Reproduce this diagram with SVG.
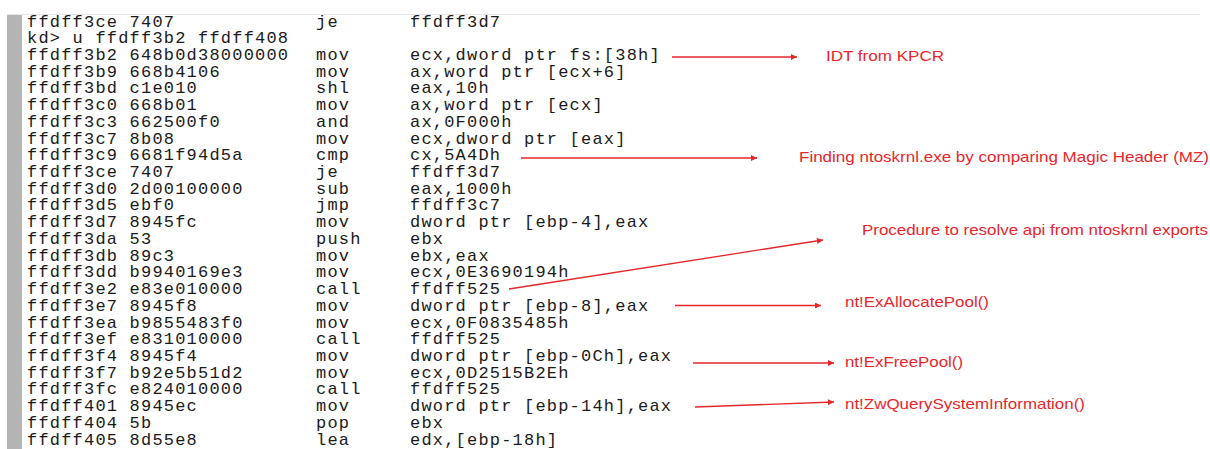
<svg xmlns="http://www.w3.org/2000/svg" width="1210" height="449" viewBox="0 0 1210 449">
<style>
.code{font-family:"Liberation Mono","Courier New",monospace;font-size:17px;letter-spacing:1.2px;fill:#1a1a1a}
.note{font-family:"Liberation Sans",Arial,sans-serif;font-size:15px;fill:#e8262b}
.arr{stroke:#e3262a;stroke-width:1.3;fill:none;marker-end:url(#ah)}
</style>
<defs>
<marker id="ah" viewBox="0 0 10 10" refX="10" refY="5" markerWidth="9" markerHeight="6" markerUnits="userSpaceOnUse" orient="auto">
<path d="M0,0 L10,5 L0,10 z" fill="#e3262a"/>
</marker>
</defs>
<rect x="0" y="0" width="1210" height="449" fill="#ffffff"/>
<g id="listing">
<line x1="7" y1="14.5" x2="1200" y2="14.5" stroke="#e6e6e6" stroke-width="1"/>
<rect x="7" y="15" width="15" height="434" fill="#b4b4b4"/>
<text class="code" y="26.5"><tspan x="27">ffdff3ce 7407</tspan><tspan x="316">je</tspan><tspan x="410">ffdff3d7</tspan></text>
<text class="code" y="43.2"><tspan x="27">kd&gt; u ffdff3b2 ffdff408</tspan></text>
<text class="code" y="59.9"><tspan x="27">ffdff3b2 648b0d38000000</tspan><tspan x="316">mov</tspan><tspan x="410">ecx,dword ptr fs:[38h]</tspan></text>
<text class="code" y="76.7"><tspan x="27">ffdff3b9 668b4106</tspan><tspan x="316">mov</tspan><tspan x="410">ax,word ptr [ecx+6]</tspan></text>
<text class="code" y="93.4"><tspan x="27">ffdff3bd c1e010</tspan><tspan x="316">shl</tspan><tspan x="410">eax,10h</tspan></text>
<text class="code" y="110.1"><tspan x="27">ffdff3c0 668b01</tspan><tspan x="316">mov</tspan><tspan x="410">ax,word ptr [ecx]</tspan></text>
<text class="code" y="126.8"><tspan x="27">ffdff3c3 662500f0</tspan><tspan x="316">and</tspan><tspan x="410">ax,0F000h</tspan></text>
<text class="code" y="143.5"><tspan x="27">ffdff3c7 8b08</tspan><tspan x="316">mov</tspan><tspan x="410">ecx,dword ptr [eax]</tspan></text>
<text class="code" y="160.3"><tspan x="27">ffdff3c9 6681f94d5a</tspan><tspan x="316">cmp</tspan><tspan x="410">cx,5A4Dh</tspan></text>
<text class="code" y="177"><tspan x="27">ffdff3ce 7407</tspan><tspan x="316">je</tspan><tspan x="410">ffdff3d7</tspan></text>
<text class="code" y="193.7"><tspan x="27">ffdff3d0 2d00100000</tspan><tspan x="316">sub</tspan><tspan x="410">eax,1000h</tspan></text>
<text class="code" y="210.4"><tspan x="27">ffdff3d5 ebf0</tspan><tspan x="316">jmp</tspan><tspan x="410">ffdff3c7</tspan></text>
<text class="code" y="227.1"><tspan x="27">ffdff3d7 8945fc</tspan><tspan x="316">mov</tspan><tspan x="410">dword ptr [ebp-4],eax</tspan></text>
<text class="code" y="243.9"><tspan x="27">ffdff3da 53</tspan><tspan x="316">push</tspan><tspan x="410">ebx</tspan></text>
<text class="code" y="260.6"><tspan x="27">ffdff3db 89c3</tspan><tspan x="316">mov</tspan><tspan x="410">ebx,eax</tspan></text>
<text class="code" y="277.3"><tspan x="27">ffdff3dd b9940169e3</tspan><tspan x="316">mov</tspan><tspan x="410">ecx,0E3690194h</tspan></text>
<text class="code" y="294"><tspan x="27">ffdff3e2 e83e010000</tspan><tspan x="316">call</tspan><tspan x="410">ffdff525</tspan></text>
<text class="code" y="310.7"><tspan x="27">ffdff3e7 8945f8</tspan><tspan x="316">mov</tspan><tspan x="410">dword ptr [ebp-8],eax</tspan></text>
<text class="code" y="327.5"><tspan x="27">ffdff3ea b9855483f0</tspan><tspan x="316">mov</tspan><tspan x="410">ecx,0F0835485h</tspan></text>
<text class="code" y="344.2"><tspan x="27">ffdff3ef e831010000</tspan><tspan x="316">call</tspan><tspan x="410">ffdff525</tspan></text>
<text class="code" y="360.9"><tspan x="27">ffdff3f4 8945f4</tspan><tspan x="316">mov</tspan><tspan x="410">dword ptr [ebp-0Ch],eax</tspan></text>
<text class="code" y="377.6"><tspan x="27">ffdff3f7 b92e5b51d2</tspan><tspan x="316">mov</tspan><tspan x="410">ecx,0D2515B2Eh</tspan></text>
<text class="code" y="394.3"><tspan x="27">ffdff3fc e824010000</tspan><tspan x="316">call</tspan><tspan x="410">ffdff525</tspan></text>
<text class="code" y="411.1"><tspan x="27">ffdff401 8945ec</tspan><tspan x="316">mov</tspan><tspan x="410">dword ptr [ebp-14h],eax</tspan></text>
<text class="code" y="427.8"><tspan x="27">ffdff404 5b</tspan><tspan x="316">pop</tspan><tspan x="410">ebx</tspan></text>
<text class="code" y="444.5"><tspan x="27">ffdff405 8d55e8</tspan><tspan x="316">lea</tspan><tspan x="410">edx,[ebp-18h]</tspan></text>
</g>
<g id="connectors">
<line class="arr" x1="672" y1="57" x2="797" y2="57"/>
<line class="arr" x1="521" y1="158" x2="757" y2="158"/>
<line class="arr" x1="509" y1="289" x2="823" y2="240"/>
<line class="arr" x1="675" y1="305.5" x2="821" y2="305.5"/>
<line class="arr" x1="693" y1="363" x2="834" y2="363"/>
<line class="arr" x1="695" y1="407" x2="834" y2="402"/>
</g>
<g id="note-idt"><text class="note" x="826" y="61" textLength="118" lengthAdjust="spacingAndGlyphs">IDT from KPCR</text></g>
<g id="note-finding"><text class="note" x="799" y="162" textLength="410" lengthAdjust="spacingAndGlyphs">Finding ntoskrnl.exe by comparing Magic Header (MZ)</text></g>
<g id="note-procedure"><text class="note" x="862" y="235" textLength="346" lengthAdjust="spacingAndGlyphs">Procedure to resolve api from ntoskrnl exports</text></g>
<g id="note-exallocatepool"><text class="note" x="845" y="307" textLength="144" lengthAdjust="spacingAndGlyphs">nt!ExAllocatePool()</text></g>
<g id="note-exfreepool"><text class="note" x="845" y="367" textLength="118" lengthAdjust="spacingAndGlyphs">nt!ExFreePool()</text></g>
<g id="note-zwquery"><text class="note" x="845" y="409" textLength="240" lengthAdjust="spacingAndGlyphs">nt!ZwQuerySystemInformation()</text></g>
</svg>
